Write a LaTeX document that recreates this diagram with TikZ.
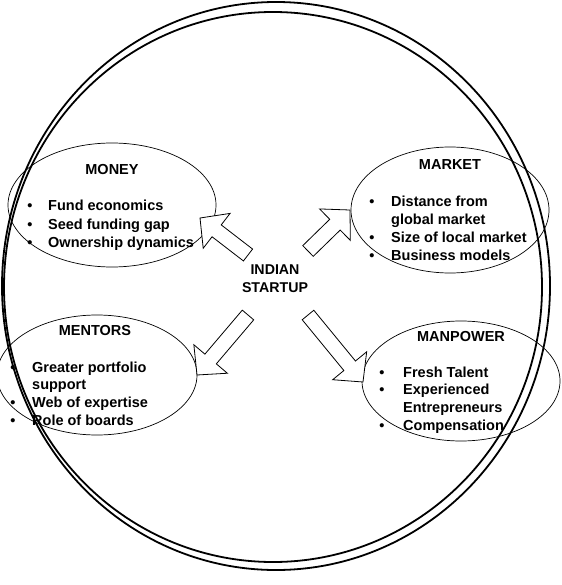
\documentclass[tikz,border=0pt]{standalone}
\usepackage{fontspec}
\setmainfont{Liberation Sans}
\usetikzlibrary{shapes.geometric,calc}

\begin{document}
\begin{tikzpicture}[x=1pt, y=-1pt,
    ring/.style={draw, line width=1.8pt},
    bubble/.style={draw, ellipse, line width=0.7pt, inner sep=0pt},
    title/.style={inner sep=0pt, font=\fontsize{14.5}{17.8}\selectfont\bfseries},
    item/.style={inner sep=0pt, anchor=base west, font=\fontsize{14.5}{17.8}\selectfont\bfseries},
    dot/.style={inner sep=0pt, anchor=base, font=\fontsize{14.5}{17.8}\selectfont\bfseries},
    bigarrow/.style={draw, fill=white, line width=0.8pt, line join=miter,
      to path={let \p1=($(\tikztotarget)-(\tikztostart)$),
                   \n1={atan2(\y1,\x1)}, \n2={veclen(\x1,\y1)} in
        [shift={(\tikztostart)}, rotate=\n1]
        (0pt,-7.5pt) -- ({\n2-21pt},-7.5pt) -- ({\n2-21pt},-22pt) -- ({\n2+0pt},0pt)
        -- ({\n2-21pt},22pt) -- ({\n2-21pt},7.5pt) -- (0pt,7.5pt) -- cycle}}]

    \useasboundingbox (0,0) rectangle (561,585);

    % ================================================================================================
    % rings
    % ================================================================================================
    \draw [ring] (276,286) ellipse [x radius=274, y radius=284];
    \draw [ring] (273,287) ellipse [x radius=269, y radius=275];

    % ================================================================================================
    % bubbles
    % ================================================================================================
    \node [bubble, minimum width=208, minimum height=124] (money)    at (112,205) {};
    \node [bubble, minimum width=198, minimum height=126] (market)   at (450,210) {};
    \node [bubble, minimum width=200, minimum height=120] (mentors)  at (97,375)  {};
    \node [bubble, minimum width=198, minimum height=120] (manpower) at (461,381) {};

    % ================================================================================================
    % arrows
    % ================================================================================================
    \node [inner sep=0pt, align=center, font=\fontsize{14.2}{17.8}\selectfont\bfseries] (startup) at (275,279) {INDIAN\\STARTUP};

    \coordinate (money-tail)    at (248,255);
    \coordinate (money-tip)     at (200,218);
    \coordinate (market-tail)   at (308,251);
    \coordinate (market-tip)    at (350,210);
    \coordinate (mentors-tail)  at (248,315);
    \coordinate (mentors-tip)   at (197,375);
    \coordinate (manpower-tail) at (308,315);
    \coordinate (manpower-tip)  at (363,382);

    \foreach \m in {money, market, mentors, manpower}
    \draw [bigarrow] (\m-tail) to (\m-tip);

    % ================================================================================================
    % titles
    % ================================================================================================
    \node [title] (money-title)    at (112,170) {MONEY};
    \node [title] (market-title)   at (450,165) {MARKET};
    \node [title] (mentors-title)  at (95,331)  {MENTORS};
    \node [title] (manpower-title) at (461,337) {MANPOWER};

    % ================================================================================================
    % items
    % ================================================================================================
    \foreach \t [count=\i] in {Fund economics, Seed funding gap, Ownership dynamics}
    \node [item] (money-\i) at (48,{211+18*(\i-1)}) {\t};
    \foreach \i in {1,2,3}
    \node [dot] (money-dot-\i) at (30,{211+18*(\i-1)}) {\textbullet};

    \foreach \t [count=\i] in {Distance from, global market, Size of local market, Business models}
    \node [item] (market-\i) at (391,{207+17.7*(\i-1)}) {\t};
    \foreach \i in {1,3,4}
    \node [dot] (market-dot-\i) at (372,{207+17.7*(\i-1)}) {\textbullet};

    \foreach \t [count=\i] in {Greater portfolio, support, Web of expertise, Role of boards}
    \node [item] (mentors-\i) at (32,{372+17.7*(\i-1)}) {\t};
    \foreach \i in {1,3,4}
    \node [dot] (mentors-dot-\i) at (13,{372+17.7*(\i-1)}) {\textbullet};

    \foreach \t [count=\i] in {Fresh Talent, Experienced, Entrepreneurs, Compensation}
    \node [item] (manpower-\i) at (403,{377+17.8*(\i-1)}) {\t};
    \foreach \i in {1,2,4}
    \node [dot] (manpower-dot-\i) at (382,{377+17.8*(\i-1)}) {\textbullet};

  \end{tikzpicture}
\end{document}
